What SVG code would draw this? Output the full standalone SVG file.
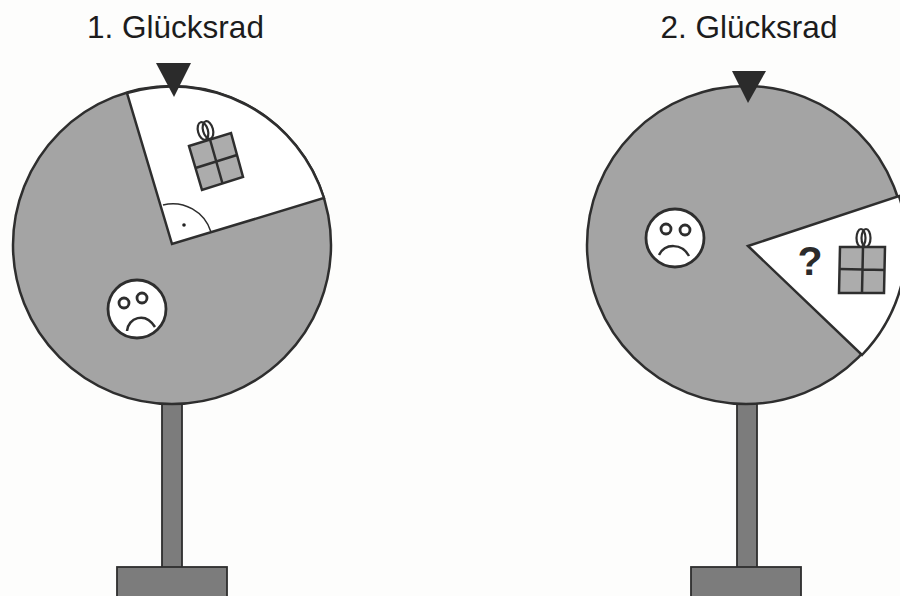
<svg xmlns="http://www.w3.org/2000/svg" width="900" height="596" viewBox="0 0 900 596">
<style>
.title{font-family:"Liberation Sans",Arial,sans-serif;font-size:31.500px;fill:#1c1c1c}
.wheel{fill:#a4a4a4;stroke:#2e2e2e;stroke-width:2.500}
.win{fill:#fff;stroke:#2e2e2e;stroke-width:2.500;stroke-linejoin:miter}
.pole{fill:#7c7c7c;stroke:#2e2e2e;stroke-width:1.800}
.ptr{fill:#2b2b2b}
.face{fill:#fff;stroke:#2e2e2e;stroke-width:2.800}
.line{fill:none;stroke:#2e2e2e;stroke-width:2.500}
.eye{fill:none;stroke:#2e2e2e;stroke-width:2.800}
.thin{fill:none;stroke:#2e2e2e;stroke-width:1.500}
.rib{fill:none;stroke:#2e2e2e;stroke-width:2.200}
.box{fill:#acacac;stroke:#2e2e2e;stroke-width:2.500}
</style>
<rect width="900" height="596" fill="#fdfdfc"/>
<g id="wheel1">
<text class="title" x="175.500" y="38" text-anchor="middle">1. Glücksrad</text>
<rect class="pole" x="162" y="403" width="20" height="165"/>
<rect class="pole" x="117" y="567" width="110" height="32"/>
<circle class="wheel" cx="172" cy="245" r="159"/>
<path class="win" d="M172 244L127 93A159 159 0 0 1 324 198Z"/>
<path class="thin" d="M163 205A40 40 0 0 1 211 232"/>
<circle cx="184" cy="225" r="1.800" fill="#222"/>
<polygon class="ptr" points="156,63 191,63 174,97"/>
<g id="gift1">
<ellipse class="rib" cx="203" cy="131" rx="5" ry="9" transform="rotate(-15 203 131)"/>
<ellipse class="rib" cx="208" cy="130" rx="5" ry="9" transform="rotate(-15 208 130)"/>
<polygon class="box" points="189,146 231,133 243,177 202,190"/>
<path class="line" d="M210 139.500L222.500 183.500M195.500 168L237 155"/>
</g>
<g id="face1">
<circle class="face" cx="137" cy="309" r="29"/>
<circle class="eye" cx="124" cy="303" r="5"/>
<circle class="eye" cx="142" cy="298" r="5"/>
<path class="line" d="M127 331C128 318 145 311 155 327"/>
</g>
</g>
<g id="wheel2">
<text class="title" x="749" y="38" text-anchor="middle">2. Glücksrad</text>
<rect class="pole" x="737" y="403" width="20" height="165"/>
<rect class="pole" x="691" y="567" width="110" height="32"/>
<circle class="wheel" cx="746" cy="245" r="159"/>
<path class="win" d="M748 246L899 196A159 159 0 0 1 862 355Z"/>
<polygon class="ptr" points="732,71 766,71 748,103"/>
<text x="810" y="275" text-anchor="middle" font-family="'Liberation Sans',sans-serif" font-weight="700" font-size="41" fill="#2b2b2b">?</text>
<g id="gift2">
<ellipse class="rib" cx="861" cy="238" rx="4.500" ry="9"/>
<ellipse class="rib" cx="866" cy="238" rx="4.500" ry="9"/>
<polygon class="box" points="840,247 885,247 884,293 839,293"/>
<path class="line" d="M863 247L862 293M840 269L885 270"/>
</g>
<g id="face2">
<circle class="face" cx="675" cy="238" r="29"/>
<circle class="eye" cx="666" cy="229" r="5"/>
<circle class="eye" cx="685" cy="230" r="5"/>
<path class="line" d="M659 255C665 243 682 243 689 256"/>
</g>
</g>
</svg>
